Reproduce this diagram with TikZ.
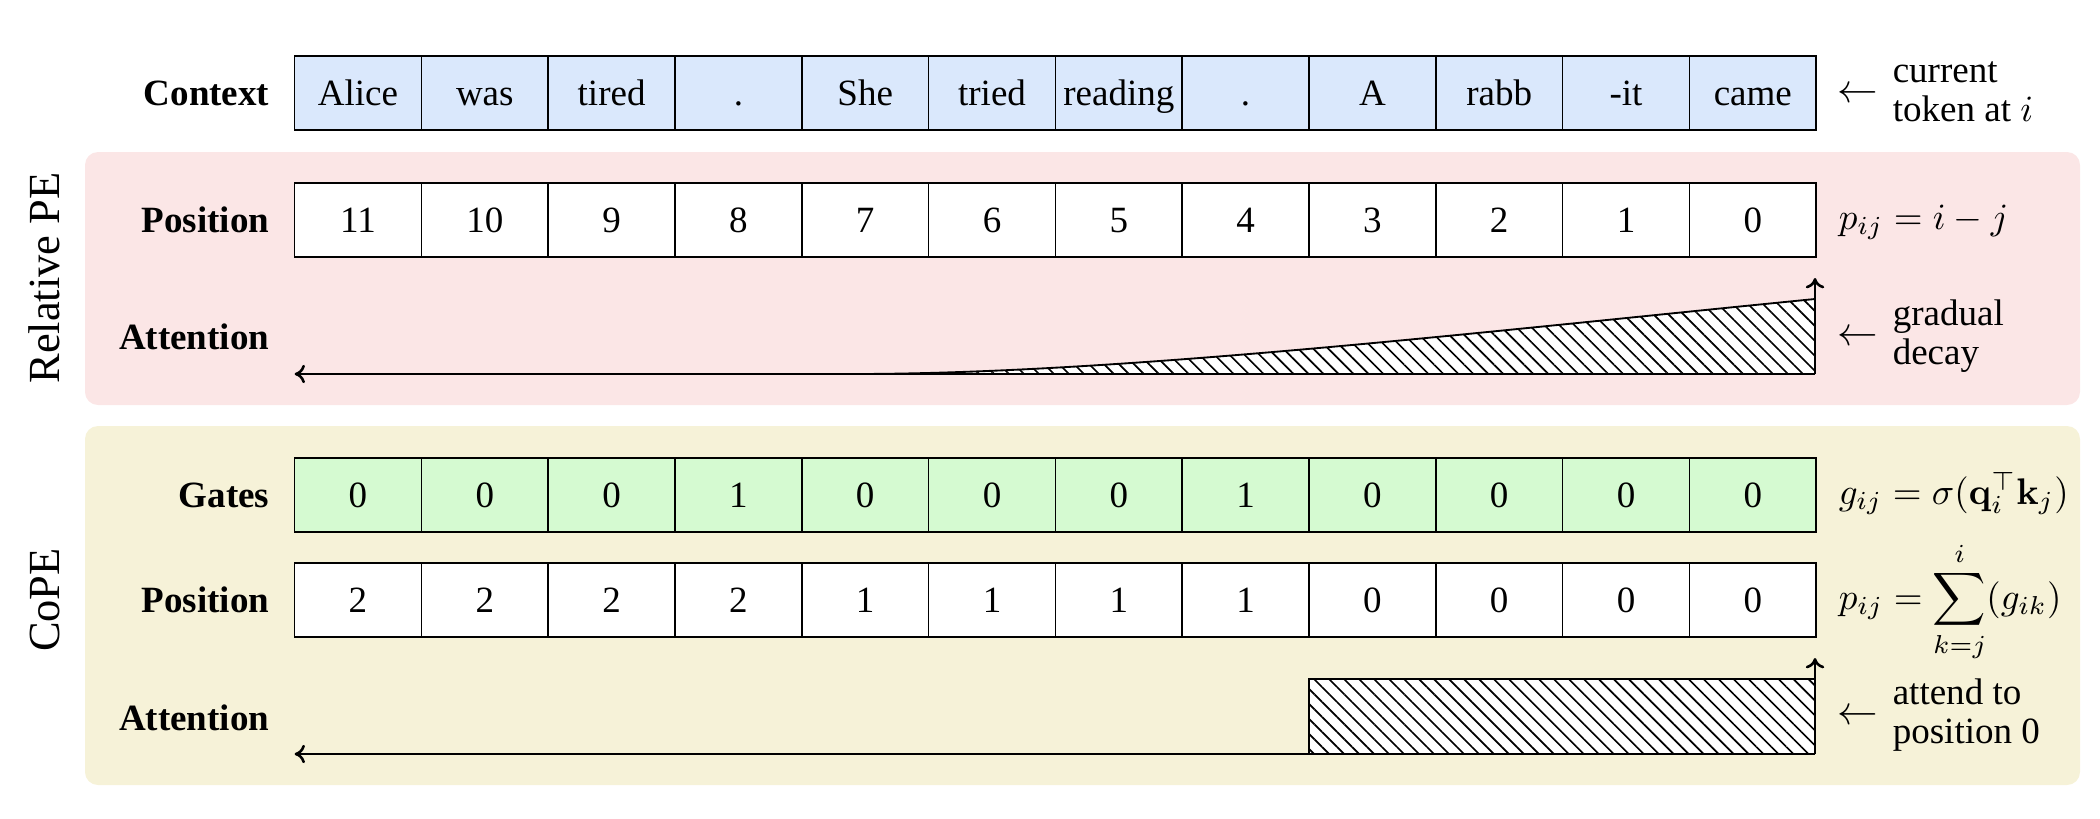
\documentclass[tikz,border=0pt]{standalone}
\usepackage[no-math]{fontspec}
\setmainfont{Liberation Serif}
\usetikzlibrary{patterns.meta,arrows.meta}
\definecolor{ctxblue}{HTML}{DAE8FC}
\definecolor{gatgreen}{HTML}{D5FAD1}
\definecolor{relpink}{HTML}{FBE6E6}
\definecolor{copebeige}{HTML}{F6F2D8}
\begin{document}
\begin{tikzpicture}[x=0.27pt,y=-0.27pt,
  cell/.style={draw,line width=0.45pt,minimum width=34.236pt,minimum height=19.98pt,
    inner sep=0pt,text height=6.7pt,text depth=0pt,font=\fontsize{10}{12}\selectfont},
  rowlabel/.style={anchor=east,inner sep=0pt,text height=6.7pt,text depth=0pt,
    font=\fontsize{10}{12}\selectfont\bfseries},
  sidelabel/.style={inner sep=0pt,rotate=90,text height=8pt,text depth=0pt,
    font=\fontsize{12}{14}\selectfont},
  note/.style={anchor=base west,inner sep=0pt,align=left,
    font=\fontsize{10}{10.5}\selectfont},
  arrowglyph/.style={anchor=base,inner sep=0pt,font=\fontsize{11}{12}\selectfont},
  formula/.style={anchor=base west,inner sep=0pt,font=\fontsize{10}{12}\selectfont},
  axis/.style={line width=0.7pt,-{To[length=2.8pt,width=5pt]}},
  hatch/.style={pattern={Lines[angle=-45,distance=2.86pt,line width=0.45pt]}},
  bgbox/.style={rounded corners=3.5pt}
]
\useasboundingbox (0,0) rectangle (2100,818);

% background panels
\fill[relpink,bgbox] (85,152) rectangle (2080,405);
\fill[copebeige,bgbox] (85,426) rectangle (2080,785);

% side labels
\node[sidelabel] (relpe) at (45,278) {Relative PE};
\node[sidelabel] (cope) at (45,600) {CoPE};

% row labels
\node[rowlabel] (lctx) at (270,93) {Context};
\node[rowlabel] (lrpos) at (270,220) {Position};
\node[rowlabel] (lratt) at (270,337) {Attention};
\node[rowlabel] (lgate) at (270,495) {Gates};
\node[rowlabel] (lcpos) at (270,600) {Position};
\node[rowlabel] (lcatt) at (270,718) {Attention};

% rows of cells
\foreach \t [count=\k from 0] in {Alice,was,tired,.,She,tried,reading,.,A,rabb,-it,came}
  \node[cell,fill=ctxblue] (ctx\k) at ({358+126.8*\k},93) {\t};
\foreach \t [count=\k from 0] in {11,10,9,8,7,6,5,4,3,2,1,0}
  \node[cell,fill=white] (rpos\k) at ({358+126.8*\k},220) {\t};
\foreach \t [count=\k from 0] in {0,0,0,1,0,0,0,1,0,0,0,0}
  \node[cell,fill=gatgreen] (gate\k) at ({358+126.8*\k},495) {\t};
\foreach \t [count=\k from 0] in {2,2,2,2,1,1,1,1,0,0,0,0}
  \node[cell,fill=white] (cpos\k) at ({358+126.8*\k},600) {\t};

% relative PE attention: gradual decay
\fill[white] (860,374) .. controls (1130,373) and (1480,332) .. (1815,299) -- (1815,374) -- cycle;
\fill[hatch] (860,374) .. controls (1130,373) and (1480,332) .. (1815,299) -- (1815,374) -- cycle;
\draw[line width=0.5pt] (860,374) .. controls (1130,373) and (1480,332) .. (1815,299);
\coordinate (relorigin) at (1815,374);
\coordinate (relleft) at (294.6,374);
\coordinate (reltop) at (1815,278);
\draw[axis] (relorigin) -- (relleft);
\draw[axis] (relorigin) -- (reltop);

% CoPE attention: attend to position 0
\fill[white] (1309,679) rectangle (1815,754);
\fill[hatch] (1309,679) rectangle (1815,754);
\draw[line width=0.5pt] (1309,754) -- (1309,679) -- (1815,679);
\coordinate (copeorigin) at (1815,754);
\coordinate (copeleft) at (294.6,754);
\coordinate (copetop) at (1815,658);
\draw[axis] (copeorigin) -- (copeleft);
\draw[axis] (copeorigin) -- (copetop);

% right-hand notes
\node[arrowglyph] (actx) at (1858,102) {$\leftarrow$};
\node[note] (nctx) at (1892,121) {current\\token at $i$};
\node[arrowglyph] (arel) at (1858,345) {$\leftarrow$};
\node[note] (nrel) at (1892,364) {gradual\\decay};
\node[arrowglyph] (acope) at (1858,724) {$\leftarrow$};
\node[note] (ncope) at (1892,743) {attend to\\position 0};

% formulas
\node[formula] (frel) at (1838,229) {$p_{ij}=i-j$};
\node[formula] (fgate) at (1838,504) {$g_{ij}=\sigma(\mathbf{q}_i^{\top}\mathbf{k}_j)$};
\node[formula] (fcpos) at (1838,609) {$\displaystyle p_{ij}=\sum_{k=j}^{i}(g_{ik})$};
\end{tikzpicture}
\end{document}
